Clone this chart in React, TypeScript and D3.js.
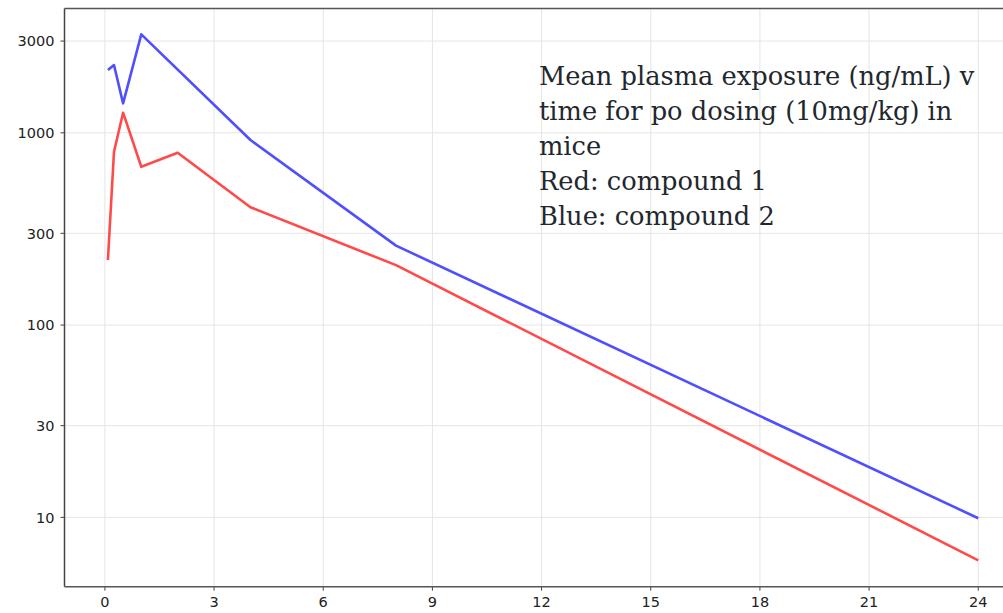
import React from 'react'
import * as d3 from 'd3'

// sampling times (h) and mean plasma concentrations (ng/mL)
const timesCompound1 = [0.083, 0.25, 0.5, 1, 2, 4, 8, 24]
const compound1 = [218, 797, 1272, 666, 788, 410, 205, 5.98]
const timesCompound2 = [0.083, 0.25, 0.5, 1, 4, 8, 24]
const compound2 = [2121, 2252, 1423, 3251, 917, 259, 9.9]

const xTicks = [0, 3, 6, 9, 12, 15, 18, 21, 24]
const yTicks = [10, 30, 100, 300, 1000, 3000]

const titleLines = [
  'Mean plasma exposure (ng/mL) v',
  'time for po dosing (10mg/kg) in',
  'mice',
  'Red: compound 1',
  'Blue: compound 2',
]

const width = 1003
const height = 613
const left = 64.5
const top = 8.5
const bottom = 586.7
const right = 1011

export default function App() {
  const x = d3.scaleLinear().domain([-1.11, 24.9]).range([left, right])
  const y = d3.scaleLog().domain([4.36, 4430]).range([bottom, top])

  const line = d3
    .line<[number, number]>()
    .x((d) => x(d[0]))
    .y((d) => y(d[1]))

  const red = timesCompound1.map((t, i) => [t, compound1[i]] as [number, number])
  const blue = timesCompound2.map((t, i) => [t, compound2[i]] as [number, number])

  return (
    <svg
      width={width}
      height={height}
      style={{ position: 'absolute', left: 0, top: 0, background: '#fff' }}
    >
      <g>
        {xTicks.map((t) => (
          <line key={'gx' + t} x1={x(t)} x2={x(t)} y1={top} y2={bottom} stroke="#e5e5e5" strokeWidth={1} />
        ))}
        {yTicks.map((v) => (
          <line key={'gy' + v} x1={left} x2={right} y1={y(v)} y2={y(v)} stroke="#e5e5e5" strokeWidth={1} />
        ))}
      </g>

      <g fontFamily="'DejaVu Sans', sans-serif" fontSize={14.5} fill="#222">
        {yTicks.map((v) => (
          <g key={'ty' + v}>
            <line x1={left - 4} x2={left} y1={y(v)} y2={y(v)} stroke="#444" />
            <text x={left - 10} y={y(v)} dy="0.36em" textAnchor="end">
              {v}
            </text>
          </g>
        ))}
        {xTicks.map((t) => (
          <g key={'tx' + t}>
            <line x1={x(t)} x2={x(t)} y1={bottom} y2={bottom + 4} stroke="#444" />
            <text x={x(t)} y={bottom + 20} textAnchor="middle">
              {t}
            </text>
          </g>
        ))}
      </g>

      <line x1={left} x2={right} y1={top} y2={top} stroke="#555" strokeWidth={1.5} />
      <line x1={left} x2={left} y1={top} y2={bottom} stroke="#444" strokeWidth={1.5} />
      <line x1={left} x2={right} y1={bottom} y2={bottom} stroke="#555" strokeWidth={1.5} />

      <path d={line(blue) || ''} fill="none" stroke="#4f4fff" strokeWidth={2.6} strokeLinejoin="round" />
      <path d={line(red) || ''} fill="none" stroke="#ff4a4a" strokeWidth={2.6} strokeLinejoin="round" />

      <g fontFamily="'DejaVu Serif', serif" fontSize={25.7} fill="#1f282e">
        {titleLines.map((s, i) => (
          <text key={i} x={539} y={85 + i * 35}>
            {s}
          </text>
        ))}
      </g>
    </svg>
  )
}
